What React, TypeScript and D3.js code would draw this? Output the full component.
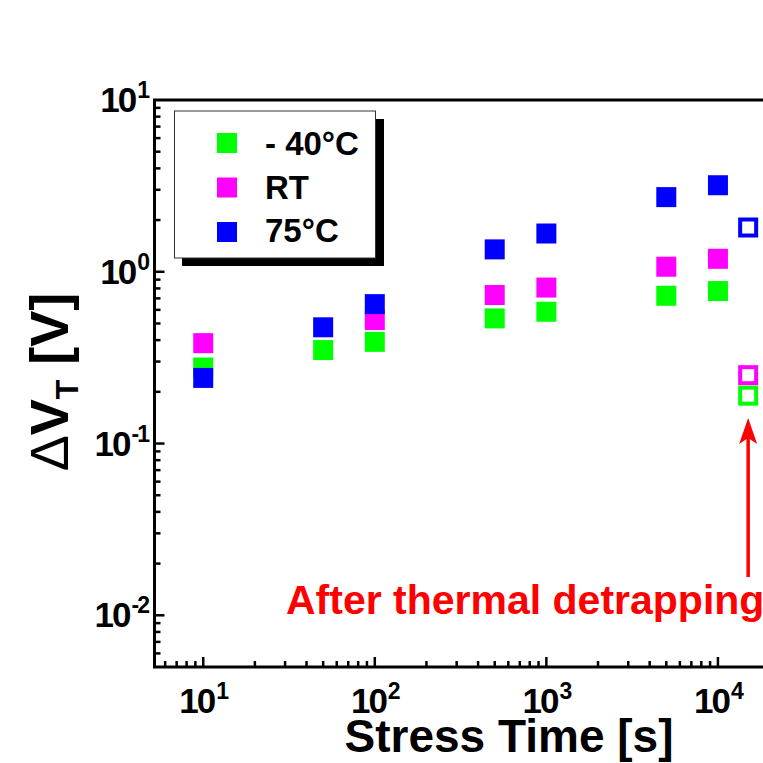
import React from "react";
import * as d3 from "d3";

// Stress times [s] for the filled markers
const times = [10, 50, 100, 500, 1000, 5000, 10000];
// ΔV_T [V] per temperature (null = no point)
const dvtMinus40: (number | null)[] = [0.277, 0.35, 0.391, 0.535, 0.585, 0.725, 0.772];
const dvtRT: (number | null)[] = [0.384, null, 0.523, 0.732, 0.809, 1.07, 1.19];
const dvt75: (number | null)[] = [0.241, 0.475, 0.648, 1.35, 1.67, 2.72, 3.19];

// After thermal detrapping (open markers)
const detrapTime = 15000;
const detrapMinus40 = 0.19;
const detrapRT = 0.25;
const detrap75 = 1.81;

// Annotation arrow span (in ΔV_T units)
const arrowTipValue = 0.141;
const arrowTailValue = 0.0167;

const seriesNames = ["- 40°C", "RT", "75°C"];
const seriesColors = ["#00ff00", "#ff00ff", "#0000ff"];

const W = 763;
const H = 763;
const left = 154.5;
const top = 100;
const bottom = 667;
const FONT = "'Liberation Sans', Arial, sans-serif";

const x = d3.scaleLog().domain([5.2, 30000]).range([left, 799.8]);
const y = d3.scaleLog().domain([0.005, 10]).range([bottom, top]);

const isMajor = (v: number) => Math.abs(Math.log10(v) - Math.round(Math.log10(v))) < 1e-9;

export default function App() {
  const series = [dvtMinus40, dvtRT, dvt75];
  const detrap = [detrapMinus40, detrapRT, detrap75];
  const ms = 20;

  const xTicks = x.ticks().filter((v) => x(v) > left + 1 && x(v) < W);
  const yTicks = y.ticks().filter((v) => y(v) > top + 1 && y(v) < bottom - 1);
  const xMajors = xTicks.filter(isMajor);
  const yMajors = y.ticks().filter(isMajor);

  const arrowX = x(detrapTime);
  const arrowTip = y(arrowTipValue);
  const arrowBase = y(arrowTailValue);

  return (
    <div style={{ position: "fixed", left: 0, top: 0 }}>
      <svg width={W} height={H} style={{ display: "block", background: "#fff" }} fontFamily={FONT}>
        <rect x={0} y={0} width={W} height={H} fill="#fff" />

        {/* ticks */}
        {xTicks.map((v) => (
          <line key={"xt" + v} x1={x(v)} x2={x(v)} y1={bottom} y2={bottom - (isMajor(v) ? 10 : 6)} stroke="#000" strokeWidth={2.5} />
        ))}
        {yTicks.map((v) => (
          <line key={"yt" + v} x1={left} x2={left + (isMajor(v) ? 10 : 6)} y1={y(v)} y2={y(v)} stroke="#000" strokeWidth={2.5} />
        ))}

        {/* frame */}
        <path d={`M${W + 5},${top}H${left}V${bottom}H${W + 5}`} fill="none" stroke="#000" strokeWidth={3} />

        {/* x tick labels */}
        {xMajors.map((v) => (
          <text key={"xl" + v} x={x(v)} y={713} textAnchor="middle" fontWeight="bold" fontSize={35} letterSpacing={-2} fill="#000">
            <tspan>10</tspan>
            <tspan dy={-14} dx={2} fontSize={23}>{Math.round(Math.log10(v))}</tspan>
          </text>
        ))}
        {/* y tick labels */}
        {yMajors.map((v) => (
          <text key={"yl" + v} x={148} y={y(v) + 12} textAnchor="end" fontWeight="bold" fontSize={35} letterSpacing={-2} fill="#000">
            <tspan>10</tspan>
            <tspan dy={-14} dx={2} fontSize={23}>{Math.round(Math.log10(v))}</tspan>
          </text>
        ))}

        {/* axis titles */}
        <text x={509} y={752} textAnchor="middle" fontWeight="bold" fontSize={46} fill="#000">
          Stress Time [s]
        </text>
        <text transform="translate(68,382) rotate(-90)" textAnchor="middle" fontWeight="bold" fontSize={54} fill="#000">
          <tspan fontWeight="normal">Δ</tspan>
          <tspan>V</tspan>
          <tspan dy={10} fontSize={32}>T</tspan>
          <tspan dy={-10}> [V]</tspan>
        </text>

        {/* filled markers */}
        {series.map((vals, si) =>
          vals.map((v, i) =>
            v == null ? null : (
              <rect key={`m${si}-${i}`} x={x(times[i]) - ms / 2} y={y(v) - ms / 2} width={ms} height={ms} fill={seriesColors[si]} />
            )
          )
        )}
        {/* open markers after detrapping */}
        {detrap.map((v, si) => (
          <rect key={`o${si}`} x={x(detrapTime) - ms / 2 + 2} y={y(v) - ms / 2 + 2} width={ms - 4} height={ms - 4} fill="none" stroke={seriesColors[si]} strokeWidth={4} />
        ))}

        {/* arrow and annotation */}
        <line x1={arrowX} x2={arrowX} y1={arrowBase} y2={arrowTip + 18} stroke="#ff0000" strokeWidth={3.5} />
        <path d={`M${arrowX},${arrowTip} L${arrowX - 9},${arrowTip + 26} L${arrowX},${arrowTip + 20} L${arrowX + 9},${arrowTip + 26} Z`} fill="#ff0000" />
        <text x={286} y={614} fontWeight="bold" fontSize={41} fill="#ff0000">
          After thermal detrapping
        </text>

        {/* legend */}
        <rect x={182} y={119} width={202} height={147} fill="#000" />
        <rect x={174.5} y={111} width={201} height={147} fill="#fff" stroke="#333" strokeWidth={1} />
        {seriesNames.map((name, i) => (
          <g key={name}>
            <rect x={217} y={133 + i * 44.5} width={ms} height={ms} fill={seriesColors[i]} />
            <text x={265} y={155 + i * 43.5} fontWeight="bold" fontSize={33} fill="#000">
              {name}
            </text>
          </g>
        ))}
      </svg>
    </div>
  );
}
